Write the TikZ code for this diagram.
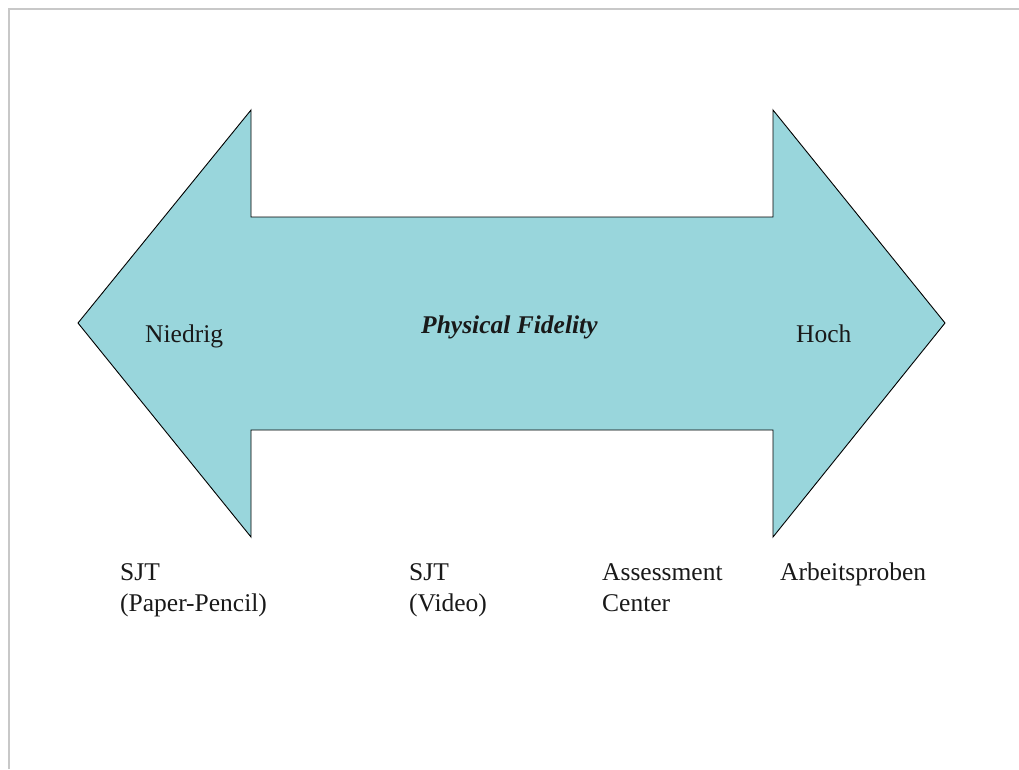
\documentclass[tikz,border=0pt]{standalone}
\usepackage{fontspec}
\setmainfont{Liberation Serif}
\definecolor{arrowfill}{RGB}{153,214,220}
\definecolor{framegray}{RGB}{200,200,200}
\begin{document}
\begin{tikzpicture}[x=1pt,y=-1pt,
  lbl/.style={anchor=base west,inner sep=0pt,font=\fontsize{25.5}{31}\selectfont,align=left,text=black!90},
  title/.style={lbl,font=\fontsize{25.5}{31}\selectfont\bfseries\itshape}]
\useasboundingbox (0,0) rectangle (1019,769);
\fill[white] (0,0) rectangle (1019,769);
% page frame (top and left edges)
\draw[framegray,line width=2pt] (9,769) -- (9,9) -- (1019,9);
% double-headed block arrow
\filldraw[fill=arrowfill,draw=black,line width=0.9pt,line join=miter]
  (78,323) -- (251,110) -- (251,217) -- (773,217) -- (773,110) -- (945,323)
  -- (773,537) -- (773,430) -- (251,430) -- (251,537) -- cycle;
\node[lbl] (low) at (145,342) {Niedrig};
\node[title] (fid) at (421,333) {Physical Fidelity};
\node[lbl] (high) at (796,342) {Hoch};
% two-line labels: base anchor sits on the last line
\node[lbl] (sjtpp) at (120,611) {SJT\\(Paper-Pencil)};
\node[lbl] (sjtv) at (409,611) {SJT\\(Video)};
\node[lbl] (ac) at (602,611) {Assessment\\Center};
\node[lbl] (ap) at (780,580) {Arbeitsproben};
\end{tikzpicture}
\end{document}
